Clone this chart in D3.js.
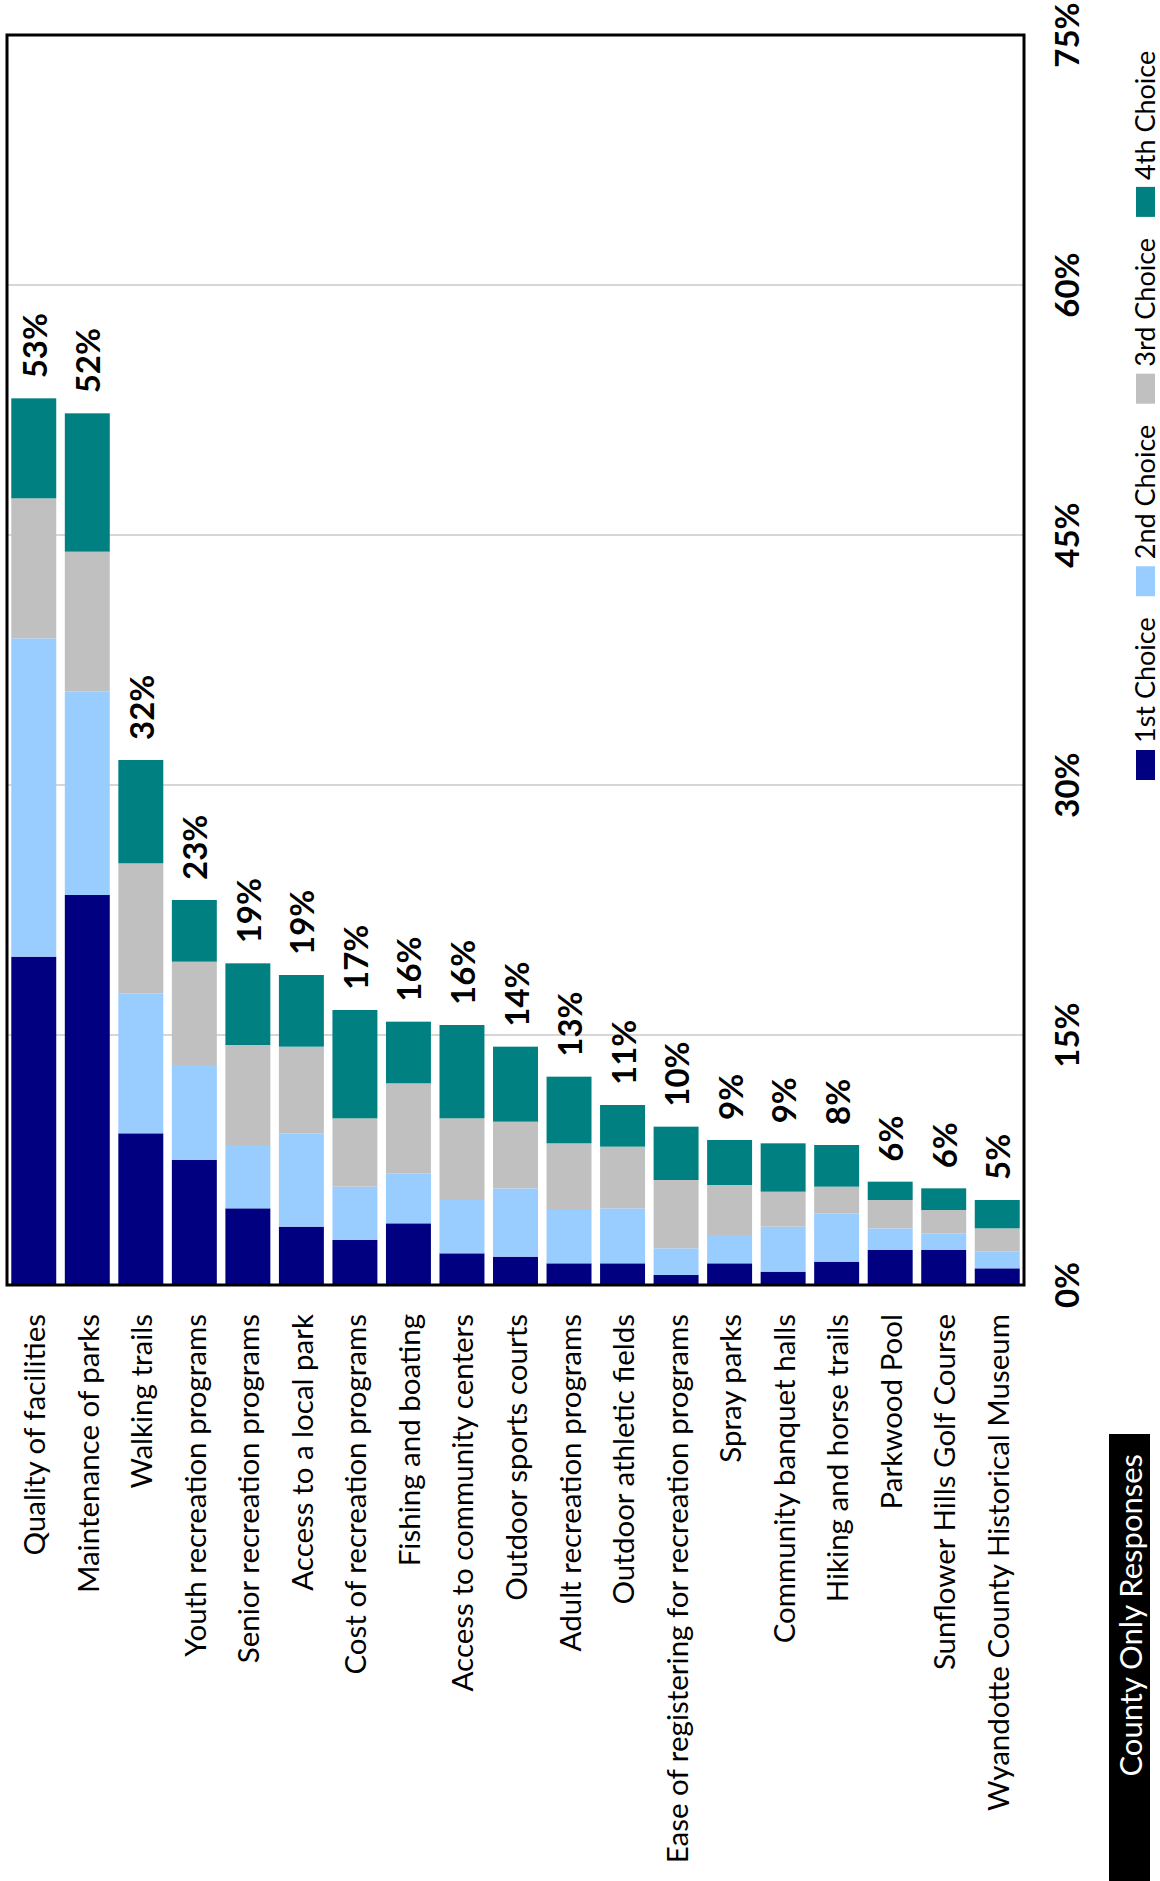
<!DOCTYPE html>
<html><head><meta charset="utf-8">
<script src="https://cdn.jsdelivr.net/npm/d3@7"></script>
<style>body{margin:0;background:#fff} svg{display:block} text{font-family:Lato, "Open Sans", sans-serif}</style>
</head><body><svg id="c" width="1160" height="1881"></svg>
<script>
const categories = ["Quality of facilities","Maintenance of parks","Walking trails","Youth recreation programs","Senior recreation programs","Access to a local park","Cost of recreation programs","Fishing and boating","Access to community centers","Outdoor sports courts","Adult recreation programs","Outdoor athletic fields","Ease of registering for recreation programs","Spray parks","Community banquet halls","Hiking and horse trails","Parkwood Pool","Sunflower Hills Golf Course","Wyandotte County Historical Museum"];
const first  = [19.7, 23.4, 9.1, 7.5, 4.6, 3.5, 2.7, 3.7, 1.9, 1.7, 1.3, 1.3, 0.6, 1.3, 0.8, 1.4, 2.1, 2.1, 1.0];
const second = [19.1, 12.2, 8.4, 5.7, 3.8, 5.6, 3.2, 3.0, 3.2, 4.1, 3.2, 3.3, 1.6, 1.7, 2.7, 2.9, 1.3, 1.0, 1.0];
const third  = [8.4, 8.4, 7.8, 6.2, 6.0, 5.2, 4.1, 5.4, 4.9, 4.0, 4.0, 3.7, 4.1, 3.0, 2.1, 1.6, 1.7, 1.4, 1.4];
const fourth = [6.0, 8.3, 6.2, 3.7, 4.9, 4.3, 6.5, 3.7, 5.6, 4.5, 4.0, 2.5, 3.2, 2.7, 2.9, 2.5, 1.1, 1.3, 1.7];
const totalLabels = ["53%","52%","32%","23%","19%","19%","17%","16%","16%","14%","13%","11%","10%","9%","9%","8%","6%","6%","5%"];
const seriesNames = ["1st Choice","2nd Choice","3rd Choice","4th Choice"];
const seriesColors = ["#000080","#99CCFF","#C0C0C0","#008080"];
const tickValues = [0,15,30,45,60,75];
const title = "County Only Responses";

(function () {
const svg = d3.select("#c");
const pL = 7, pR = 1024, pT = 35, pB = 1285;

const x = d3.scaleBand().domain(categories).range([pL, pR]).paddingInner(0.16).paddingOuter(0.08);
const y = d3.scaleLinear().domain([0, 75]).range([pB, pT]);

const rows = categories.map((c, i) => ({cat: c, s0: first[i], s1: second[i], s2: third[i], s3: fourth[i]}));
const stack = d3.stack().keys(["s0","s1","s2","s3"])(rows);

svg.append("g").selectAll("line").data(tickValues.filter(v => v > 0 && v < 75)).join("line")
  .attr("x1", pL).attr("x2", pR).attr("y1", d => y(d)).attr("y2", d => y(d))
  .attr("stroke", "#c8c8c8").attr("stroke-width", 1.5);

svg.append("g").selectAll("g").data(stack).join("g")
  .attr("fill", (d, i) => seriesColors[i])
  .selectAll("rect").data(d => d).join("rect")
  .attr("x", d => x(d.data.cat)).attr("width", x.bandwidth())
  .attr("y", d => y(d[1])).attr("height", d => y(d[0]) - y(d[1]));

svg.append("rect").attr("x", pL).attr("y", pT).attr("width", pR - pL).attr("height", pB - pT)
  .attr("fill", "none").attr("stroke", "#000").attr("stroke-width", 3);

const totals = categories.map((c, i) => first[i] + second[i] + third[i] + fourth[i]);
svg.append("g").selectAll("text").data(categories).join("text")
  .attr("transform", (c, i) => `translate(${x(c) + x.bandwidth() / 2},${y(totals[i]) - 20}) rotate(-90)`)
  .attr("text-anchor", "start").attr("dominant-baseline", "central")
  .attr("font-weight", "bold").attr("font-size", 33).attr("fill", "#000")
  .text((c, i) => totalLabels[i]);

svg.append("g").selectAll("text").data(categories).join("text")
  .attr("transform", c => `translate(${x(c) + x.bandwidth() / 2},${pB + 29}) rotate(-90)`)
  .attr("text-anchor", "end").attr("dominant-baseline", "central")
  .attr("font-size", 29.5).attr("fill", "#000")
  .text(c => c);

const axis = svg.append("g").attr("transform", `translate(1066,0)`)
  .call(d3.axisRight(y).tickValues(tickValues).tickSize(0).tickFormat(d => d + "%"));
axis.select(".domain").remove();
axis.selectAll(".tick").attr("transform", d => `translate(0,${y(d)})`);
axis.selectAll("text")
  .attr("x", 0).attr("dy", null)
  .attr("transform", "rotate(-90)")
  .attr("text-anchor", "middle").attr("dominant-baseline", "central")
  .attr("font-family", "Lato, sans-serif").attr("font-weight", "bold").attr("font-size", 33).attr("fill", "#000");

const lg = svg.append("g");
let pos = 780;
seriesNames.forEach((name, i) => {
  lg.append("rect").attr("x", 1136).attr("y", pos - 30).attr("width", 19).attr("height", 30).attr("fill", seriesColors[i]);
  const t = lg.append("text")
    .attr("transform", `translate(1144,${pos - 37}) rotate(-90)`)
    .attr("text-anchor", "start").attr("dominant-baseline", "central")
    .attr("font-size", 27).attr("fill", "#000").text(name);
  const len = t.node().getComputedTextLength();
  pos = pos - 37 - len - 21;
});

svg.append("rect").attr("x", 1109).attr("y", 1434).attr("width", 41).attr("height", 460).attr("fill", "#000");
svg.append("text").attr("transform", `translate(1130,1454) rotate(-90)`)
  .attr("text-anchor", "end").attr("dominant-baseline", "central")
  .attr("font-size", 31).attr("fill", "#fff").text(title);
})();
</script></body></html>
